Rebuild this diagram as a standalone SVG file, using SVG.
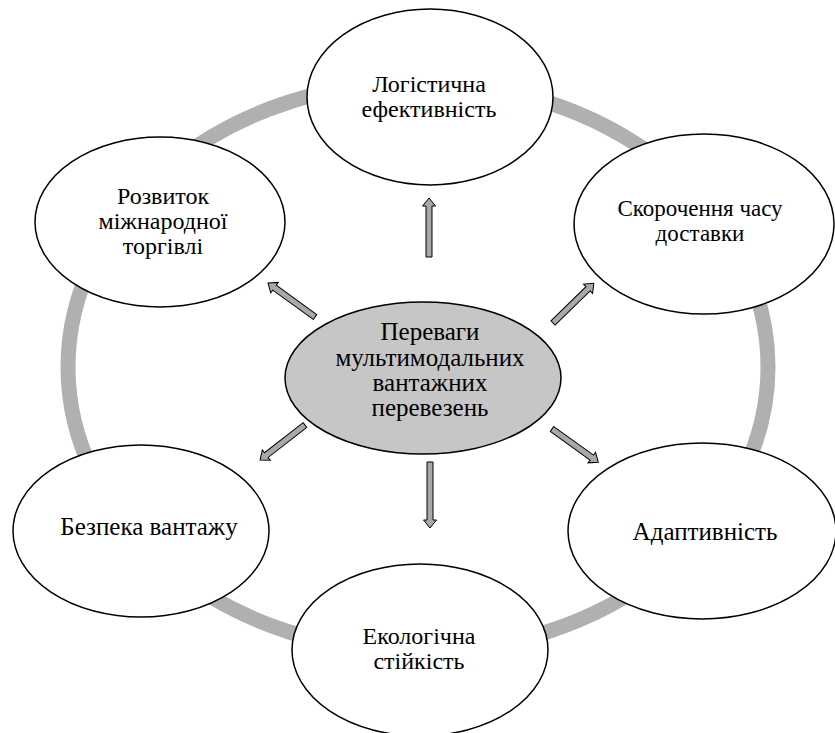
<svg xmlns="http://www.w3.org/2000/svg" width="835" height="733" viewBox="0 0 835 733">
<style>
.node{fill:#ffffff;stroke:#000000;stroke-width:1.5}
.center{fill:#c6c6c6;stroke:#000000;stroke-width:1.5}
text{font-family:"Liberation Serif","Times New Roman",serif;fill:#000000;text-anchor:middle}
.t{font-size:24px}
.t1{font-size:25px}
.tc{font-size:25px}
.ts{font-size:23px}
.arr{fill:#a8a8a8;stroke:#000000;stroke-width:1}
</style>
<rect width="835" height="733" fill="#ffffff"/>
<ellipse id="ring" cx="418" cy="367" rx="350" ry="285" fill="none" stroke="#b0b0b0" stroke-width="15"/>
<g id="connectors">
<path class="arr" transform="translate(429,257) rotate(-90)" d="M0,-3 L51,-3 L51,-6.5 L59,0 L51,6.5 L51,3 L0,3 Z"/>
<path class="arr" transform="translate(430,462) rotate(90)" d="M0,-3 L58,-3 L58,-6.5 L66,0 L58,6.5 L58,3 L0,3 Z"/>
<path class="arr" transform="translate(553,323) rotate(-44.3)" d="M0,-3 L49,-3 L49,-6.5 L57,0 L49,6.5 L49,3 L0,3 Z"/>
<path class="arr" transform="translate(315,317) rotate(-144.1)" d="M0,-3 L50,-3 L50,-6.5 L58,0 L50,6.5 L50,3 L0,3 Z"/>
<path class="arr" transform="translate(305,425) rotate(142.1)" d="M0,-3 L49,-3 L49,-6.5 L57,0 L49,6.5 L49,3 L0,3 Z"/>
<path class="arr" transform="translate(552,429) rotate(35.7)" d="M0,-3 L49,-3 L49,-6.5 L57,0 L49,6.5 L49,3 L0,3 Z"/>
</g>
<g id="n-logistics">
<ellipse class="node" cx="430" cy="97" rx="123" ry="88"/>
<text class="t" x="429" y="92">Логістична</text>
<text class="t" x="429" y="117">ефективність</text>
</g>
<g id="n-trade">
<ellipse class="node" cx="160" cy="222" rx="125" ry="85"/>
<text class="t" x="163" y="204">Розвиток</text>
<text class="t" x="163" y="229">міжнародної</text>
<text class="t" x="163" y="254">торгівлі</text>
</g>
<g id="n-time">
<ellipse class="node" cx="704" cy="224" rx="130" ry="90"/>
<text class="ts" x="700" y="216">Скорочення часу</text>
<text class="ts" x="700" y="241">доставки</text>
</g>
<g id="n-center">
<ellipse class="center" cx="423" cy="378" rx="138" ry="76"/>
<text class="tc" x="430" y="340">Переваги</text>
<text class="tc" x="430" y="366">мультимодальних</text>
<text class="tc" x="430" y="391">вантажних</text>
<text class="tc" x="430" y="416">перевезень</text>
</g>
<g id="n-safety">
<ellipse class="node" cx="141" cy="531" rx="128" ry="86"/>
<text class="t1" x="149" y="535">Безпека вантажу</text>
</g>
<g id="n-adapt">
<ellipse class="node" cx="702" cy="531" rx="134" ry="88"/>
<text class="t1" x="705" y="540">Адаптивність</text>
</g>
<g id="n-eco">
<ellipse class="node" cx="420" cy="650" rx="128" ry="86"/>
<text class="t" x="419" y="644">Екологічна</text>
<text class="t" x="419" y="669">стійкість</text>
</g>
</svg>
